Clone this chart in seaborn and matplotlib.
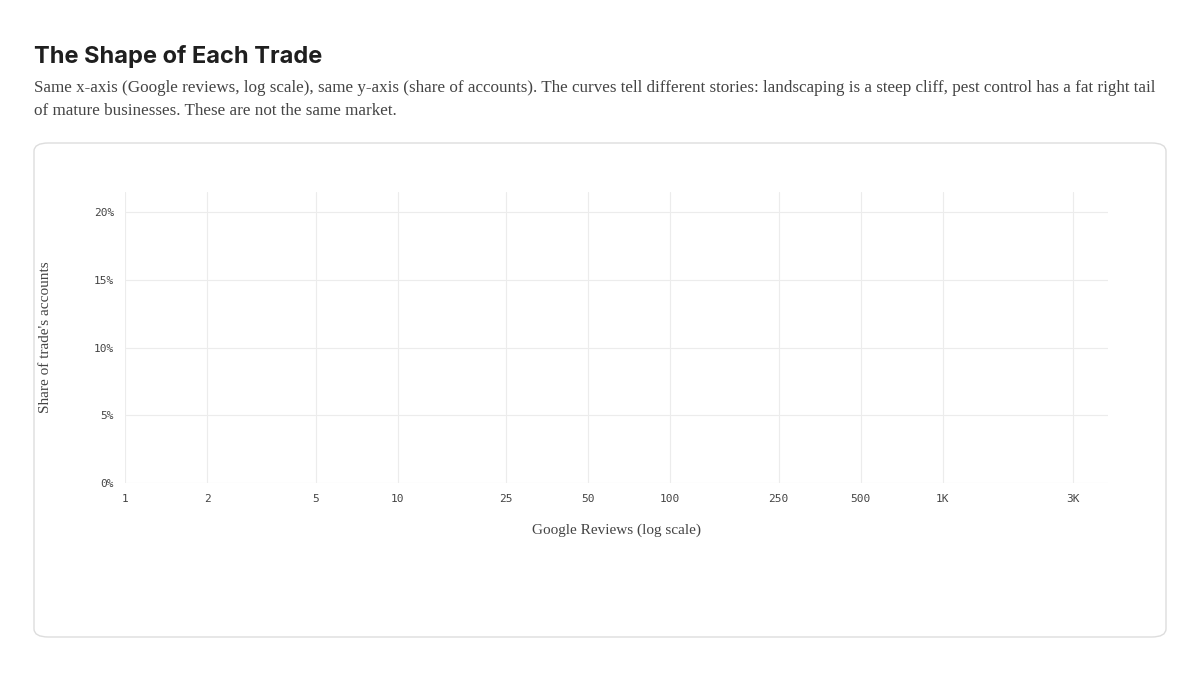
import matplotlib
matplotlib.use("Agg")
import matplotlib.pyplot as plt
import seaborn as sns
from matplotlib.patches import FancyBboxPatch
from matplotlib.ticker import FixedLocator, FixedFormatter, NullLocator

sns.set_style("white")

x_ticks = [1, 2, 5, 10, 25, 50, 100, 250, 500, 1000, 3000]
x_labels = ["1", "2", "5", "10", "25", "50", "100", "250", "500", "1K", "3K"]
y_ticks = [0, 5, 10, 15, 20]
y_labels = ["0%", "5%", "10%", "15%", "20%"]

fig = plt.figure(figsize=(12, 6.8), dpi=100)
fig.patch.set_facecolor("white")

serif = ["Liberation Serif", "DejaVu Serif"]
fig.text(34/1200, 1-57/680, "The Shape of Each Trade", fontsize=17, fontweight="bold",
         family=["Inter", "DejaVu Sans"], color="#1f1f1f", va="center")
fig.text(34/1200, 1-88/680, "Same x-axis (Google reviews, log scale), same y-axis (share of accounts). The curves tell different stories: landscaping is a steep cliff, pest control has a fat right tail",
         fontsize=12.25, family=serif, color="#444444", va="center")
fig.text(34/1200, 1-111/680, "of mature businesses. These are not the same market.",
         fontsize=12.25, family=serif, color="#444444", va="center")

card = FancyBboxPatch((34/1200, 1-637/680), (1166-34)/1200, (637-143)/680,
                      boxstyle="round,pad=0,rounding_size=0.012", transform=fig.transFigure,
                      facecolor="white", edgecolor="#dddddd", linewidth=1, zorder=-10)
fig.patches.append(card)

ax = fig.add_axes([125/1200, 1-483/680, (1108-125)/1200, (483-192)/680])
ax.set_facecolor("none")
ax.set_xscale("log")
ax.set_xlim(1, 10**((1108-125)/272.6))
ax.set_ylim(0, 20 + 20*(212-192)/(483-212))
ax.xaxis.set_major_locator(FixedLocator(x_ticks))
ax.xaxis.set_major_formatter(FixedFormatter(x_labels))
ax.xaxis.set_minor_locator(NullLocator())
ax.set_yticks(y_ticks)
ax.set_yticklabels(y_labels)
ax.grid(True, color="#ececec", linewidth=0.8)
for s in ax.spines.values():
    s.set_visible(False)
ax.tick_params(length=0, labelsize=8, colors="#444444", pad=8)
for lab in ax.get_xticklabels() + ax.get_yticklabels():
    lab.set_family("DejaVu Sans Mono")
ax.set_xlabel("Google Reviews (log scale)", family=serif, fontsize=11, color="#444444", labelpad=14)
ax.set_ylabel("Share of trade's accounts", family=serif, fontsize=11, color="#444444", labelpad=30)

fig.savefig("out.png", dpi=100, facecolor="white")
